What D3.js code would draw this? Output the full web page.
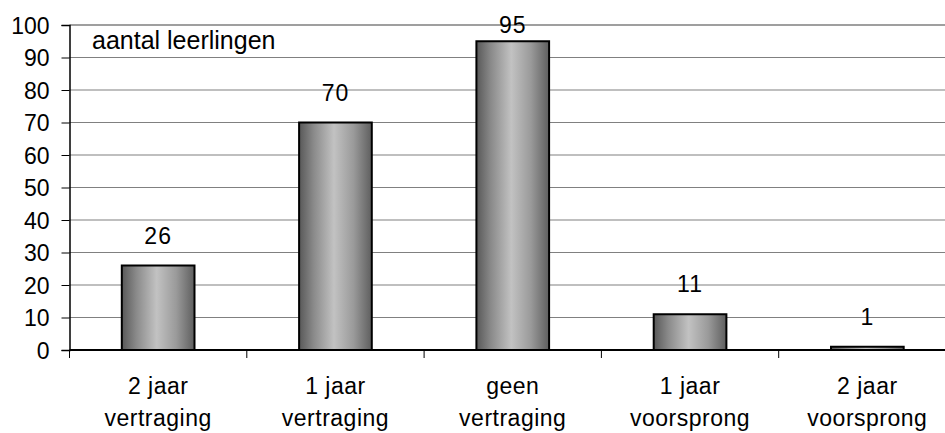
<!DOCTYPE html>
<html><head><meta charset="utf-8">
<script src="https://cdn.jsdelivr.net/npm/d3@7"></script>
<style>body{margin:0;background:#fff}svg{display:block}text{font-family:"Liberation Sans",Arial,sans-serif;fill:#000}</style>
</head><body><svg id="c" width="945" height="433"></svg>
<script>
const categories = [["2 jaar","vertraging"],["1 jaar","vertraging"],["geen","vertraging"],["1 jaar","voorsprong"],["2 jaar","voorsprong"]];
const values = [26, 70, 95, 11, 1];
const yTicks = [0,10,20,30,40,50,60,70,80,90,100];
const yLabel = "aantal leerlingen";

const svg = d3.select("#c");
const mLeft = 69.5, mRight = 956, mTop = 25, mBottom = 350;
const x = d3.scaleBand().domain(d3.range(values.length)).range([mLeft, mRight]).paddingInner(0.59).paddingOuter(0.295);
const y = d3.scaleLinear().domain([0,100]).range([mBottom, mTop]);

const defs = svg.append("defs");
const g = defs.append("linearGradient").attr("id","bg").attr("x1","0").attr("x2","1").attr("y1","0").attr("y2","0");
[[0,"#585858"],[0.2,"#8a8a8a"],[0.48,"#c2c2c2"],[0.75,"#9a9a9a"],[1,"#5e5e5e"]].forEach(s=>g.append("stop").attr("offset",s[0]).attr("stop-color",s[1]));

// gridlines
svg.append("g").selectAll("line").data(yTicks.filter(t=>t>0)).join("line")
  .attr("x1",mLeft).attr("x2",945).attr("y1",d=>y(d)).attr("y2",d=>y(d))
  .attr("stroke",d=>d===100?"#404040":"#808080").attr("stroke-width",1.2);

// y axis
const ya = svg.append("g").attr("transform",`translate(${mLeft},0)`).call(d3.axisLeft(y).tickValues(yTicks).tickSize(8).tickPadding(12));
ya.select(".domain").attr("stroke","#000").attr("stroke-width",1.5);
ya.selectAll(".tick line").attr("stroke","#000");
ya.selectAll(".tick text").style("font-size","23px").attr("fill","#000").attr("dy","0.36em");

// bars
svg.append("g").selectAll("rect").data(values).join("rect")
  .attr("x",(d,i)=>x(i)).attr("width",x.bandwidth())
  .attr("y",d=>y(d)).attr("height",d=>y(0)-y(d))
  .attr("fill","url(#bg)").attr("stroke","#000").attr("stroke-width",2);

// x axis
const step = x.step();
svg.append("line").attr("x1",mLeft).attr("x2",945).attr("y1",mBottom).attr("y2",mBottom).attr("stroke","#000").attr("stroke-width",2);
svg.append("g").selectAll("line").data(d3.range(values.length+1)).join("line")
  .attr("x1",i=>mLeft+i*step).attr("x2",i=>mLeft+i*step).attr("y1",mBottom).attr("y2",mBottom+8).attr("stroke","#000");

// value labels
svg.append("g").selectAll("text").data(values).join("text")
  .attr("x",(d,i)=>x(i)+x.bandwidth()/2).attr("y",d=>Math.max(y(d)-22, 33))
  .attr("text-anchor","middle").style("font-size","23px").style("letter-spacing","1px").text(d=>d);

// category labels
const cl = svg.append("g").selectAll("text").data(categories).join("text")
  .attr("text-anchor","middle").style("font-size","23px").style("letter-spacing","0.5px");
cl.append("tspan").attr("x",(d,i)=>x(i)+x.bandwidth()/2).attr("y",394).text(d=>d[0]);
cl.append("tspan").attr("x",(d,i)=>x(i)+x.bandwidth()/2).attr("y",426).text(d=>d[1]);

svg.append("text").attr("x",92).attr("y",49).style("font-size","25px").text(yLabel);
</script></body></html>
